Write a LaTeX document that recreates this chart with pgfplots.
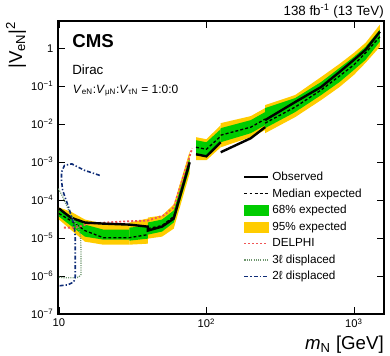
\documentclass[border=0pt]{standalone}
\usepackage{fontspec}
\setmainfont{Liberation Sans}
\usepackage{pgfplots}
\pgfplotsset{compat=1.18}

\definecolor{band68}{RGB}{0,204,0}
\definecolor{band95}{RGB}{255,204,0}
\definecolor{delphi}{RGB}{240,85,85}
\definecolor{disp3}{RGB}{110,150,110}
\definecolor{disp2}{RGB}{15,45,120}

\begin{document}
\begin{tikzpicture}
\begin{axis}[
  scale only axis, width=244.5pt, height=219.75pt,
  xmode=log, ymode=log, log basis x=10, log basis y=10,
  xmin=9.85, xmax=1600, ymin=1e-7, ymax=5.2,
  xtick={10,100,1000},
  ytick={1e-7,1e-6,1e-5,1e-4,1e-3,1e-2,1e-1,1},
  axis line style={line width=0.8pt},
  major tick length=5pt, minor tick length=2.8pt,
  every tick/.style={black, line width=0.6pt},
  tick label style={font=\fontsize{8.4}{9}\selectfont},
  xticklabel={\pgfmathtruncatemacro\ee{round(\tick)}\ifnum\ee=1 10\else 10\textsuperscript{\ee}\fi},
  yticklabel={\pgfmathtruncatemacro\ee{round(\tick)}\ifnum\ee=0 1\else\ifnum\ee<0 10\textsuperscript{−\the\numexpr-\ee\relax}\else 10\textsuperscript{\ee}\fi\fi},
  label style={font=\fontsize{14}{16}\selectfont},
  xlabel={\textit{m}\textsubscript{N} [GeV]},
  ylabel={|V\textsubscript{eN}|\textsuperscript{2}},
  xlabel style={at={(axis description cs:1,0)}, anchor=base east, yshift=-27pt, inner sep=0pt},
  ylabel style={at={(axis description cs:-0.110,1)}, anchor=base east, inner sep=0pt},
  legend style={at={(axis description cs:0.5675,0.495)}, anchor=north west, draw=none, fill=none,
    font=\fontsize{8.8}{10}\selectfont, inner sep=0pt, row sep=0.6pt},
  legend cell align=left,
  legend image code/.code={\draw[#1] (0pt,0pt) -- (18pt,0pt);},
]

% legend
\addlegendimage{black, line width=1.8pt}
\addlegendentry{Observed}
\addlegendimage{black, dash pattern=on 2.2pt off 1.6pt, line width=1pt}
\addlegendentry{Median expected}
\addlegendimage{legend image code/.code={\fill[band68] (0pt,-3.7pt) rectangle (18pt,3.7pt);}}
\addlegendentry{68\% expected}
\addlegendimage{legend image code/.code={\fill[band95] (0pt,-3.7pt) rectangle (18pt,3.7pt);}}
\addlegendentry{95\% expected}
\addlegendimage{delphi, dash pattern=on 1.5pt off 1.5pt, line width=1.4pt}
\addlegendentry{DELPHI}
\addlegendimage{disp3, dash pattern=on 0.8pt off 0.9pt, line width=1pt}
\addlegendentry{3ℓ displaced}
\addlegendimage{disp2, dash pattern=on 3pt off 1.5pt on 1pt off 1.5pt, line width=1.2pt}
\addlegendentry{2ℓ displaced}

% 95% bands
\addplot[fill=band95, draw=none, forget plot] coordinates {
  (10,6.37e-5) (12,5.0e-5) (15,3.07e-5) (20,2.40e-5) (30,2.40e-5)
  (30,6.69e-6) (20,6.69e-6) (15,8.03e-6) (12,1.67e-5) (10,3.07e-5)} -- cycle;
\addplot[fill=band95, draw=none, forget plot] coordinates {
  (30,2.56e-5) (40,3.26e-5) (40,7.11e-6) (30,6.69e-6)} -- cycle;
\addplot[fill=band95, draw=none, forget plot] coordinates {
  (40,3.46e-5) (50,3.91e-5) (60,7.65e-5) (77,1.93e-3)
  (77,5.05e-4) (60,1.77e-5) (50,1.09e-5) (40,9.64e-6)} -- cycle;
\addplot[fill=band95, draw=none, forget plot] coordinates {
  (85,4.53e-3) (100,4.01e-3) (125,9.4e-3)
  (125,2.46e-3) (100,1.12e-3) (85,1.12e-3)} -- cycle;
\addplot[fill=band95, draw=none, forget plot] coordinates {
  (125,1.063e-2) (200,1.628e-2) (250,2.65e-2)
  (250,6.94e-3) (200,4.53e-3) (125,2.46e-3)} -- cycle;
\addplot[fill=band95, draw=none, forget plot] coordinates {
  (250,3.18e-2) (400,5.85e-2) (600,0.175) (800,0.387) (1000,0.755) (1200,1.39) (1500,4.16)
  (1500,1.09) (1200,0.411) (1000,0.198) (800,9.53e-2) (600,4.31e-2) (400,1.532e-2) (250,5.78e-3)} -- cycle;

% 68% bands
\addplot[fill=band68, draw=none, forget plot] coordinates {
  (10,5.31e-5) (12,3.91e-5) (15,2.26e-5) (20,1.67e-5) (30,1.67e-5)
  (30,9.07e-6) (20,9.07e-6) (15,1.09e-5) (12,2.13e-5) (10,3.68e-5)} -- cycle;
\addplot[fill=band68, draw=none, forget plot] coordinates {
  (30,1.88e-5) (40,2.13e-5) (40,9.64e-6) (30,8.53e-6)} -- cycle;
\addplot[fill=band68, draw=none, forget plot] coordinates {
  (40,2.56e-5) (50,3.07e-5) (60,5.31e-5) (77,1.34e-3)
  (77,6.86e-4) (60,2.56e-5) (50,1.48e-5) (40,1.23e-5)} -- cycle;
\addplot[fill=band68, draw=none, forget plot] coordinates {
  (85,3.77e-3) (100,3.34e-3) (125,7.37e-3)
  (125,3.34e-3) (100,1.42e-3) (85,1.51e-3)} -- cycle;
\addplot[fill=band68, draw=none, forget plot] coordinates {
  (125,7.84e-3) (200,1.276e-2) (250,2.08e-2)
  (250,9.4e-3) (200,5.78e-3) (125,3.34e-3)} -- cycle;
\addplot[fill=band68, draw=none, forget plot] coordinates {
  (250,2.65e-2) (400,4.87e-2) (600,0.129) (800,0.303) (1000,0.592) (1200,1.09) (1500,3.07)
  (1500,1.48) (1200,0.493) (1000,0.268) (800,0.129) (600,5.85e-2) (400,2.08e-2) (250,7.84e-3)} -- cycle;

% median expected
\addplot[black, dash pattern=on 2.2pt off 1.6pt, line width=1pt, forget plot] coordinates {
  (10,4.42e-5) (12,2.89e-5) (15,1.57e-5) (20,1.02e-5) (30,1.02e-5) (40,1.23e-5)};
\addplot[black, dash pattern=on 2.2pt off 1.6pt, line width=1pt, forget plot] coordinates {
  (40,1.77e-5) (50,2.13e-5) (60,3.68e-5) (77,9.3e-4)};
\addplot[black, dash pattern=on 2.2pt off 1.6pt, line width=1pt, forget plot] coordinates {
  (85,2.46e-3) (100,2.18e-3) (125,4.81e-3)};
\addplot[black, dash pattern=on 2.2pt off 1.6pt, line width=1pt, forget plot] coordinates {
  (125,5.12e-3) (200,8.33e-3) (250,1.356e-2)};
\addplot[black, dash pattern=on 2.2pt off 1.6pt, line width=1pt, forget plot] coordinates {
  (250,1.063e-2) (400,2.82e-2) (600,7.93e-2) (800,0.186) (1000,0.364) (1200,0.755) (1500,2.00)};

% DELPHI
\addplot[delphi, dash pattern=on 1.5pt off 1.5pt, line width=1.4pt, forget plot] coordinates {
  (10.8,1.88e-5) (13,1.88e-5) (16,2.40e-5) (27,2.72e-5) (40,2.89e-5) (51,3.91e-5) (60,6.37e-5) (80,2.32e-3)};

% observed
\addplot[black, line width=1.8pt, forget plot] coordinates {
  (10,5.99e-5) (12,3.46e-5) (15,2.56e-5) (20,2.40e-5) (30,2.26e-5) (40,2.00e-5)
  (40,1.57e-5) (50,2.00e-5) (60,3.26e-5) (77,9.88e-4)};
\addplot[black, line width=1.8pt, forget plot] coordinates {
  (85,1.61e-3) (100,1.42e-3) (125,3.34e-3)};
\addplot[black, line width=1.8pt, forget plot] coordinates {
  (125,1.82e-3) (200,4.26e-3) (250,8.33e-3)};
\addplot[black, line width=1.8pt, forget plot] coordinates {
  (250,1.276e-2) (400,3.82e-2) (600,9.53e-2) (800,0.2375) (1000,0.493) (1200,0.907) (1500,2.72)};

% 3l displaced
\addplot[disp3, dash pattern=on 0.8pt off 0.9pt, line width=1pt, forget plot] coordinates {
  (9.9,2.0e-4) (10.5,1.32e-4) (12.4,3.2e-5) (13.0,2.5e-5) (13.6,1.77e-5) (14.0,1.2e-5)
  (14.1,5e-6) (14.1,1.1e-6) (13.6,9.3e-7) (12.8,9e-7) (10.9,9e-7) (9.9,9.4e-7)};

% 2l displaced
\addplot[disp2, dash pattern=on 3pt off 1.5pt on 1pt off 1.5pt, line width=1.2pt, forget plot] coordinates {
  (18.9,4.48e-4) (14.9,6.07e-4) (12.2,9e-4) (10.9,8.2e-4) (10.4,5.4e-4) (10.4,3.3e-4)
  (10.6,1.79e-4) (11.2,9.76e-5) (11.7,6.0e-5) (12.4,2.89e-5) (12.8,1.57e-5) (12.9,9.6e-6)
  (12.9,9.5e-7) (12.6,7.0e-7) (11.5,5.85e-7) (9.9,5.5e-7)};

\node[anchor=base west, inner sep=0pt, font=\fontsize{14}{16}\selectfont\bfseries] at (rel axis cs:0.043,0.911) {CMS};
\node[anchor=base west, inner sep=0pt, font=\fontsize{10}{12}\selectfont] at (rel axis cs:0.043,0.816) {Dirac};
\node[anchor=base west, inner sep=0pt, font=\fontsize{9}{11}\selectfont] at (rel axis cs:0.045,0.754)
  {\textit{V}\textsubscript{eN}:\textit{V}\textsubscript{μN}:\textit{V}\textsubscript{τN} = 1:0:0};
\end{axis}
\node[anchor=base east, inner sep=0pt, font=\fontsize{10}{12}\selectfont] at ([yshift=4.5pt]current axis.north east)
  {138 fb\textsuperscript{-1} (13 TeV)};
\pgfresetboundingbox
\path ([shift={(-43.5pt,-31.5pt)}]current axis.south west) rectangle ([shift={(4.5pt,15.75pt)}]current axis.north east);
\end{tikzpicture}
\end{document}
